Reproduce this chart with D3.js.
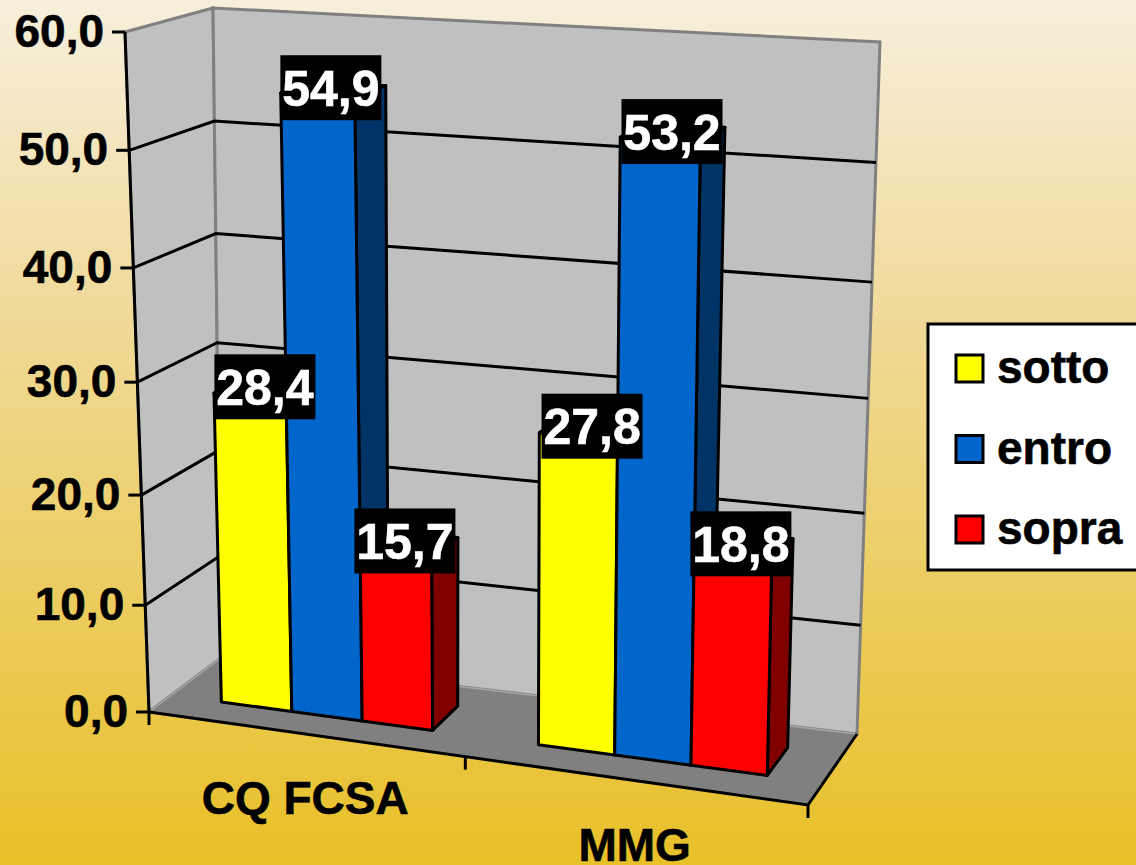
<!DOCTYPE html>
<html>
<head>
<meta charset="utf-8">
<script src="https://cdn.jsdelivr.net/npm/d3@7"></script>
<style>
  html, body { margin: 0; padding: 0; overflow: hidden; }
  svg { display: block; font-family: "Liberation Sans", Arial, sans-serif; font-weight: bold; }
</style>
</head>
<body>
<div id="app"></div>
<script>
const categories = ['CQ FCSA', 'MMG']
const seriesNames = ['sotto', 'entro', 'sopra']
const sotto = [28.4, 27.8]
const entro = [54.9, 53.2]
const sopra = [15.7, 18.8]
const valueTicks = [0, 10, 20, 30, 40, 50, 60]

const seriesValues = [sotto, entro, sopra]
const faceColors = ['#ffff00', '#0066cc', '#ff0000']
const sideColors = ['#808000', '#003366', '#800000']

const width = 1136
const height = 865

// the eight corners of the 3d box as they land on the picture
const corners = {
  frontLeft: { bottom: [149, 712], top: [125, 32] },
  frontRight: { bottom: [808, 805], top: [824, 80] },
  backLeft: { bottom: [221, 658], top: [213, 8] },
  backRight: { bottom: [857, 734], top: [880, 42] }
}

// foreshortening: equal steps are not equal on the picture
const vScale = d3.scaleLinear().domain(valueTicks).range([0, 0.157, 0.319, 0.485, 0.653, 0.826, 1])
const uScale = d3.scaleLinear().domain([0, 1, 2]).range([0, 0.48, 1])
const wScale = d3.scaleLinear().domain([0, 1]).range([0.31, 0.71])
const barScale = d3.scaleBand().domain(seriesNames).range([0.16, 0.835])

const lerp = (a, b, t) => a + (b - a) * t
const lerp2 = (p, q, t) => [lerp(p[0], q[0], t), lerp(p[1], q[1], t)]

// u across (0..1), value up, w into the picture (0..1)
function project (u, value, w) {
  const t = vScale(value)
  const side = k => lerp2(corners[k].bottom, corners[k].top, t)
  const front = lerp2(side('frontLeft'), side('frontRight'), u)
  const back = lerp2(side('backLeft'), side('backRight'), u)
  return lerp2(front, back, w)
}

const line = d3.line()
const poly = pts => line(pts) + 'Z'

const svg = d3.select('#app').append('svg').attr('width', width).attr('height', height)

const grad = svg.append('defs').append('linearGradient')
  .attr('id', 'bg').attr('x1', 0).attr('y1', 0).attr('x2', 0).attr('y2', 1)
grad.append('stop').attr('offset', '0%').attr('stop-color', '#f7efdc')
grad.append('stop').attr('offset', '37%').attr('stop-color', '#f0d998')
grad.append('stop').attr('offset', '100%').attr('stop-color', '#e8c028')
svg.append('rect').attr('width', width).attr('height', height).attr('fill', 'url(#bg)')

// walls and floor
const maxValue = valueTicks[valueTicks.length - 1]
svg.append('path')
  .attr('d', poly([project(0, 0, 0), project(0, maxValue, 0), project(0, maxValue, 1), project(0, 0, 1)]))
  .attr('fill', '#c0c0c0').attr('stroke', '#808080').attr('stroke-width', 3)
svg.append('path')
  .attr('d', poly([project(0, 0, 1), project(0, maxValue, 1), project(1, maxValue, 1), project(1, 0, 1)]))
  .attr('fill', '#c0c0c0').attr('stroke', '#808080').attr('stroke-width', 3)
svg.append('path')
  .attr('d', poly([project(0, 0, 0), project(0, 0, 1), project(1, 0, 1), project(1, 0, 0)]))
  .attr('fill', '#808080')
svg.append('path')
  .attr('d', line([project(0, 0, 0), project(0, 0, 1), project(1, 0, 1)]))
  .attr('fill', 'none').attr('stroke', '#a6a6a6').attr('stroke-width', 1.5)

// gridlines
svg.append('g').selectAll('path').data(valueTicks.slice(1, -1)).join('path')
  .attr('d', v => line([project(0, v, 0), project(0, v, 1), project(1, v, 1)]))
  .attr('fill', 'none').attr('stroke', '#000').attr('stroke-width', 3)

// floor front and right edges, value axis
const axisStroke = sel => sel.attr('fill', 'none').attr('stroke', '#000').attr('stroke-width', 3)
svg.append('path').attr('d', line([project(0, 0, 0), project(1, 0, 0), project(1, 0, 1)])).call(axisStroke)
svg.append('path').attr('d', line([project(0, 0, 0), project(0, maxValue, 0)])).call(axisStroke)

svg.append('g').selectAll('path').data(valueTicks).join('path')
  .attr('d', v => {
    const p = project(0, v, 0)
    return line([[p[0] - 13, p[1]], p])
  }).call(axisStroke)

svg.append('g').selectAll('path').data(d3.range(categories.length + 1)).join('path')
  .attr('d', i => {
    const p = project(uScale(i), 0, 0)
    return line([p, [p[0], p[1] + 13]])
  }).call(axisStroke)

const decimal = d3.formatLocale({ decimal: ',', thousands: '.', grouping: [3], currency: ['', ''] }).format('.1f')

// the picture's text is a bit heavier than plain bold
const heavy = (sel, color) => sel.attr('fill', color).attr('stroke', color).attr('stroke-width', 0.6)

svg.append('g').selectAll('text').data(valueTicks).join('text')
  .attr('x', v => project(0, v, 0)[0] - 21)
  .attr('y', v => project(0, v, 0)[1] + 15)
  .attr('text-anchor', 'end')
  .attr('font-size', 46)
  .call(heavy, '#000')
  .text(decimal)

// category labels hang below the middle of each band
svg.append('g').selectAll('text').data(categories).join('text')
  .attr('x', (d, i) => project(uScale(i + 0.5), 0, 0)[0] - 2)
  .attr('y', (d, i) => project(uScale(i + 0.5), 0, 0)[1] + 80)
  .attr('text-anchor', 'middle')
  .attr('font-size', 46)
  .call(heavy, '#000')
  .text(d => d)

// bars
const barU = (i, f) => lerp(uScale(i), uScale(i + 1), f)
const bars = []
categories.forEach((c, i) => {
  seriesNames.forEach((s, j) => {
    const x0 = barScale(s)
    const x1 = x0 + barScale.bandwidth()
    bars.push({ u0: barU(i, x0), u1: barU(i, x1), value: seriesValues[j][i], j })
  })
})

const barG = svg.append('g').selectAll('g').data(bars).join('g')
  .attr('stroke', '#000').attr('stroke-width', 3).attr('stroke-linejoin', 'round')
barG.append('path')
  .attr('d', d => poly([project(d.u0, d.value, wScale(0)), project(d.u1, d.value, wScale(0)), project(d.u1, d.value, wScale(1)), project(d.u0, d.value, wScale(1))]))
  .attr('fill', d => sideColors[d.j])
barG.append('path')
  .attr('d', d => poly([project(d.u1, 0, wScale(0)), project(d.u1, d.value, wScale(0)), project(d.u1, d.value, wScale(1)), project(d.u1, 0, wScale(1))]))
  .attr('fill', d => sideColors[d.j])
barG.append('path')
  .attr('d', d => poly([project(d.u0, 0, wScale(0)), project(d.u0, d.value, wScale(0)), project(d.u1, d.value, wScale(0)), project(d.u1, 0, wScale(0))]))
  .attr('fill', d => faceColors[d.j])

// value labels on black plates, nudged per series
const labelW = 101
const labelH = 65
const labelNudgeX = [8, 6, 3]
const labelNudgeY = [-6, -5, -9]
const labelG = svg.append('g').selectAll('g').data(bars).join('g')
  .attr('transform', d => {
    const p = project((d.u0 + d.u1) / 2, d.value, 0.4)
    return `translate(${p[0] + labelNudgeX[d.j]},${p[1] + labelNudgeY[d.j]})`
  })
labelG.append('rect')
  .attr('x', -labelW / 2).attr('y', -labelH / 2)
  .attr('width', labelW).attr('height', labelH)
  .attr('fill', '#000')
labelG.append('text')
  .attr('y', 18)
  .attr('text-anchor', 'middle')
  .attr('font-size', 50)
  .call(heavy, '#fff')
  .text(d => decimal(d.value))

// legend, its right side runs off the page
const legend = svg.append('g')
legend.append('rect')
  .attr('x', 928).attr('y', 324).attr('width', 240).attr('height', 246)
  .attr('fill', '#fff').attr('stroke', '#000').attr('stroke-width', 3)
const legendY = d3.scalePoint().domain(seriesNames).range([368, 529])
const item = legend.selectAll('g').data(seriesNames).join('g')
  .attr('transform', d => `translate(0,${legendY(d)})`)
item.append('rect')
  .attr('x', 956).attr('y', -13).attr('width', 27).attr('height', 27)
  .attr('fill', (d, i) => faceColors[i]).attr('stroke', '#000').attr('stroke-width', 3)
item.append('text')
  .attr('x', 997).attr('y', 15)
  .attr('font-size', 46)
  .call(heavy, '#000')
  .text(d => d)
</script>
</body>
</html>
